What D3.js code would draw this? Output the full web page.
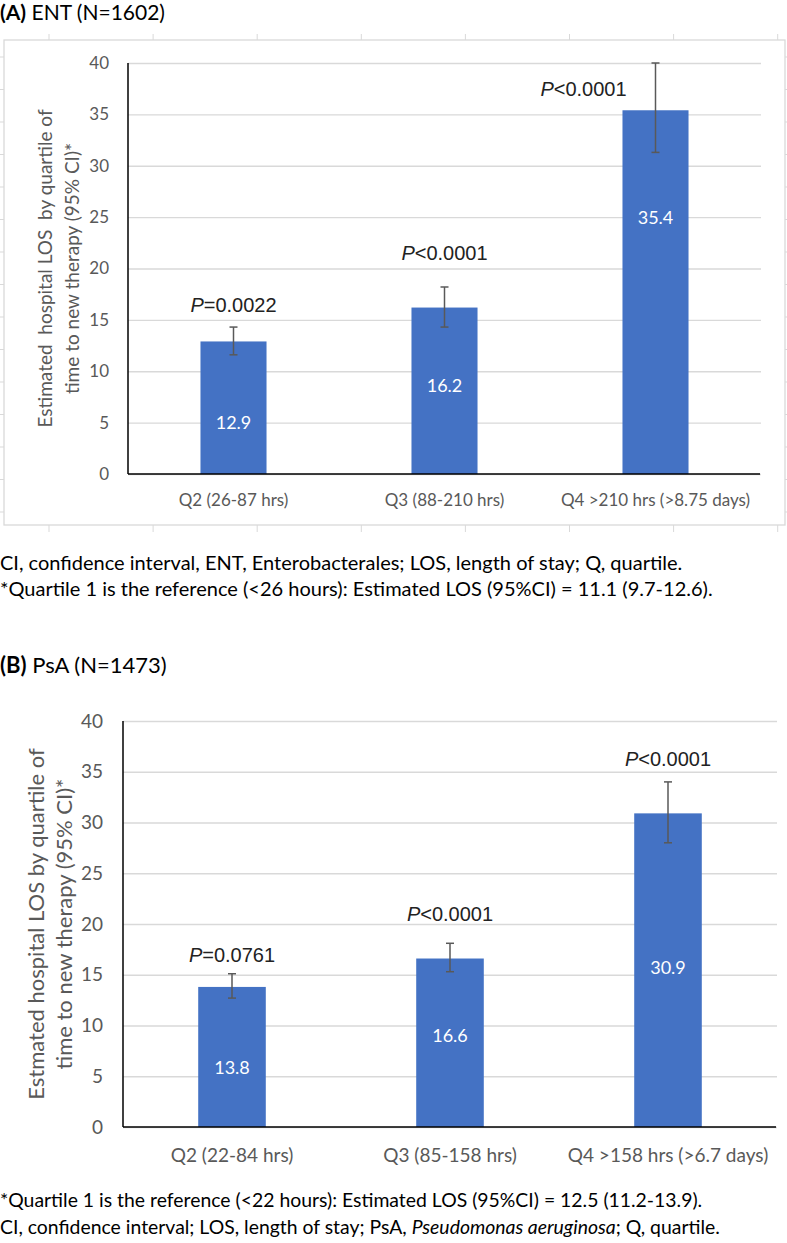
<!DOCTYPE html>
<html><head><meta charset="utf-8">
<script src="https://cdn.jsdelivr.net/npm/d3@7"></script>
<style>
html,body{margin:0;padding:0;background:#fff;}
svg{display:block;}
</style></head>
<body>
<svg id="chart" width="787" height="1243"></svg>
<script>
// ---------- DATA ----------
const catsA = ["Q2 (26-87 hrs)", "Q3 (88-210 hrs)", "Q4 >210 hrs (>8.75 days)"];
const valsA = [12.9, 16.2, 35.4];
const ciLowA = [11.6, 14.3, 31.3];
const ciHighA = [14.3, 18.2, 40.0];
const pA = ["=0.0022", "<0.0001", "<0.0001"];

const catsB = ["Q2 (22-84 hrs)", "Q3 (85-158 hrs)", "Q4 >158 hrs (>6.7 days)"];
const valsB = [13.8, 16.6, 30.9];
const ciLowB = [12.7, 15.3, 28.0];
const ciHighB = [15.1, 18.1, 34.0];
const pB = ["=0.0761", "<0.0001", "<0.0001"];

const yTicks = [0, 5, 10, 15, 20, 25, 30, 35, 40];

// annotation anchors (value units)
const valueLabelAtA = [5.0, 8.6, 24.9];
const pLabelAtA = [16.4, 21.5, 37.5];
const valueLabelAtB = [5.8, 9.0, 15.7];
const pLabelAtB = [16.9, 21.0, 36.3];

const svg = d3.select("#chart");
const FONT = "Lato, 'Open Sans', sans-serif";
const PFONT = "'Liberation Sans', Arial, sans-serif";

function panel(o) {
  const g = svg.append("g");
  const x = d3.scaleBand().domain(o.cats).range([o.x0, o.x1]).paddingInner(o.pad).paddingOuter(o.pad / 2);
  const y = d3.scaleLinear().domain([0, 40]).range([o.yb, o.yt]);

  // gridlines
  g.append("g").attr("transform", `translate(${o.x0},0)`)
    .call(d3.axisLeft(y).tickValues(yTicks).tickSize(-(o.x1 - o.x0)).tickFormat(""))
    .call(s => s.select(".domain").remove())
    .call(s => s.selectAll("line").attr("stroke", "#d9d9d9").attr("stroke-width", 1.3));

  // tick labels
  g.append("g").attr("transform", `translate(${o.x0},0)`)
    .call(d3.axisLeft(y).tickValues(yTicks).tickSize(0).tickPadding(o.tickPad))
    .call(s => s.select(".domain").remove())
    .call(s => s.selectAll("text").attr("font-family", FONT).attr("font-size", o.tickFs).attr("fill", "#595959"));

  // bars
  const data = o.cats.map((c, i) => ({c, v: o.vals[i], lo: o.lo[i], hi: o.hi[i], p: o.p[i], vl: o.vl[i], pl: o.pl[i], i}));
  g.selectAll("rect.bar").data(data).join("rect").attr("class", "bar")
    .attr("x", d => x(d.c)).attr("width", x.bandwidth())
    .attr("y", d => y(d.v)).attr("height", d => y(0) - y(d.v))
    .attr("fill", "#4472C4");

  // axes lines
  g.append("line").attr("x1", o.x0).attr("x2", o.x0).attr("y1", y(0)).attr("y2", y(40))
    .attr("stroke", "#000").attr("stroke-width", 1.5);
  g.append("g").attr("transform", `translate(0,${y(0)})`)
    .call(d3.axisBottom(x).tickSize(0).tickPadding(o.catPad))
    .call(s => s.select(".domain").attr("stroke", "#000").attr("stroke-width", 1.5).attr("d", `M${o.x0},0H${o.x1 - 1}`))
    .call(s => s.selectAll("text").attr("font-family", FONT).attr("font-size", o.catFs).attr("fill", "#595959"));

  // error bars
  const cx = d => x(d.c) + x.bandwidth() / 2;
  const eb = g.selectAll("g.err").data(data).join("g").attr("class", "err")
    .attr("stroke", "#595959").attr("stroke-width", 1.5);
  eb.append("line").attr("x1", cx).attr("x2", cx).attr("y1", d => y(d.lo)).attr("y2", d => y(d.hi));
  eb.append("line").attr("x1", d => cx(d) - 4).attr("x2", d => cx(d) + 4).attr("y1", d => y(d.lo)).attr("y2", d => y(d.lo));
  eb.append("line").attr("x1", d => cx(d) - 4).attr("x2", d => cx(d) + 4).attr("y1", d => y(d.hi)).attr("y2", d => y(d.hi));

  // value labels
  g.selectAll("text.vl").data(data).join("text").attr("class", "vl")
    .attr("x", cx).attr("y", d => y(d.vl)).attr("dy", "0.35em")
    .attr("text-anchor", "middle").attr("font-family", FONT).attr("font-size", o.valFs).attr("fill", "#fff")
    .text(d => d.v.toFixed(1));

  // p labels
  const pt = g.selectAll("text.pl").data(data).join("text").attr("class", "pl")
    .attr("x", d => cx(d) + (o.pdx[d.i] || 0)).attr("y", d => y(d.pl)).attr("dy", "0.35em")
    .attr("text-anchor", "middle").attr("font-family", PFONT).attr("font-size", o.pFs).attr("fill", "#222");
  pt.append("tspan").attr("font-style", "italic").text("P");
  pt.append("tspan").text(d => d.p);

  // y title
  const yc = (o.yb + o.yt) / 2;
  o.yTitle.forEach((t, k) => {
    g.append("text").attr("transform", `translate(${o.yTitleX[k]},${yc}) rotate(-90)`)
      .attr("dy", "0.35em").attr("text-anchor", "middle")
      .attr("font-family", FONT).attr("font-size", o.yTitleFs).attr("fill", "#595959")
      .style("white-space", "pre").text(t);
  });
  return g;
}

// ---------- Panel A ----------
// frame and spreadsheet ticks
const fr = svg.append("g").attr("stroke", "#d9d9d9").attr("fill", "none");
fr.append("rect").attr("x", 4).attr("y", 40).attr("width", 781).attr("height", 485).attr("stroke-width", 1.3);
d3.range(8).forEach(k => {
  const xx = 49 + k * 104.1;
  fr.append("line").attr("x1", xx).attr("x2", xx).attr("y1", 34).attr("y2", 40);
  fr.append("line").attr("x1", xx).attr("x2", xx).attr("y1", 525).attr("y2", 532);
});
d3.range(15).forEach(k => {
  const yy = 57 + k * 32.5;
  fr.append("line").attr("x1", 0).attr("x2", 4).attr("y1", yy).attr("y2", yy);
  fr.append("line").attr("x1", 785).attr("x2", 787).attr("y1", yy).attr("y2", yy);
});

svg.append("text").attr("x", 0).attr("y", 20).attr("font-family", FONT).attr("font-size", 21).attr("fill", "#000")
  .call(t => { t.append("tspan").attr("font-weight", "bold").text("(A)"); t.append("tspan").text(" ENT (N=1602)"); });

panel({
  cats: catsA, vals: valsA, lo: ciLowA, hi: ciHighA, p: pA, vl: valueLabelAtA, pl: pLabelAtA,
  pdx: [0, 0, -72],
  x0: 128, x1: 761, yb: 474, yt: 63, pad: 0.687,
  tickPad: 19, tickFs: 17, catFs: 17, catPad: 20, valFs: 18, pFs: 20,
  yTitle: ["Estimated  hospital LOS  by quartile of", "time to new therapy (95% CI)*"], yTitleX: [45, 72], yTitleFs: 19
});

svg.append("text").attr("x", 0).attr("y", 570).attr("font-family", FONT).attr("font-size", 20).attr("fill", "#000")
  .text("CI, confidence interval, ENT, Enterobacterales; LOS, length of stay; Q, quartile.");
svg.append("text").attr("x", 0).attr("y", 596).attr("font-family", FONT).attr("font-size", 20).attr("fill", "#000")
  .text("*Quartile 1 is the reference (<26 hours): Estimated LOS (95%CI) = 11.1 (9.7-12.6).");

// ---------- Panel B ----------
svg.append("text").attr("x", 0).attr("y", 673).attr("font-family", FONT).attr("font-size", 22).attr("fill", "#000")
  .call(t => { t.append("tspan").attr("font-weight", "bold").text("(B)"); t.append("tspan").text(" PsA (N=1473)"); });

panel({
  cats: catsB, vals: valsB, lo: ciLowB, hi: ciHighB, p: pB, vl: valueLabelAtB, pl: pLabelAtB,
  pdx: [0, 0, 0],
  x0: 123, x1: 777, yb: 1127, yt: 721, pad: 0.69,
  tickPad: 20, tickFs: 19, catFs: 19, catPad: 22, valFs: 18, pFs: 20,
  yTitle: ["Estmated hospital LOS by quartile of", "time to new therapy (95% CI)*"], yTitleX: [36, 64], yTitleFs: 22
});

svg.append("text").attr("x", 0).attr("y", 1207).attr("font-family", FONT).attr("font-size", 19.4).attr("fill", "#000")
  .text("*Quartile 1 is the reference (<22 hours): Estimated LOS (95%CI) = 12.5 (11.2-13.9).");
svg.append("text").attr("x", 0).attr("y", 1234).attr("font-family", FONT).attr("font-size", 19.4).attr("fill", "#000")
  .call(t => {
    t.append("tspan").text("CI, confidence interval; LOS, length of stay; PsA, ");
    t.append("tspan").attr("font-style", "italic").text("Pseudomonas aeruginosa");
    t.append("tspan").text("; Q, quartile.");
  });
</script>
</body></html>
